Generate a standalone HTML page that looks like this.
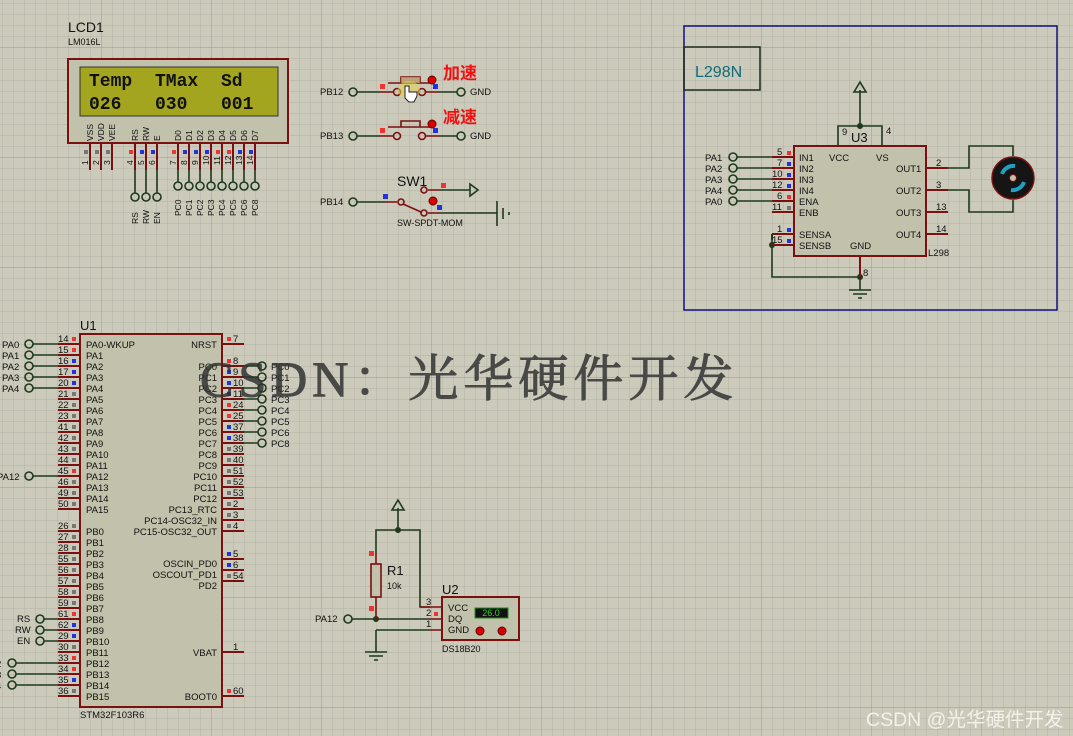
<!DOCTYPE html>
<html><head><meta charset="utf-8"><style>
html,body{margin:0;padding:0;width:1073px;height:736px;overflow:hidden;background:#cbcabb}
svg{display:block}
text{font-family:"Liberation Sans","Noto Sans CJK SC",sans-serif}
text.mono{font-family:"Liberation Mono",monospace;font-weight:bold}
text.wm{font-family:"Liberation Serif","Noto Serif CJK SC",serif}
</style></head><body>
<svg width="1073" height="736" viewBox="0 0 1073 736" xmlns="http://www.w3.org/2000/svg">
<defs>
<pattern id="g" width="11" height="11" patternUnits="userSpaceOnUse" x="2" y="3">
<path d="M0 0H11M0 0V11" stroke="#b3b2a6" stroke-width="1" fill="none"/></pattern>
<pattern id="G" width="110" height="110" patternUnits="userSpaceOnUse" x="101" y="47">
<path d="M0 0H110M0 0V110" stroke="#a3a296" stroke-width="1.2" fill="none"/></pattern>
</defs>
<rect width="1073" height="736" fill="#cbcabb"/>
<rect width="1073" height="736" fill="url(#g)"/>
<rect width="1073" height="736" fill="url(#G)"/>

<!-- LCD -->
<text x="68" y="32" font-size="14" fill="#111">LCD1</text>
<text x="68" y="45" font-size="9" fill="#111">LM016L</text>
<rect x="68" y="59" width="220" height="84" fill="#c2c1ab" stroke="#7a1010" stroke-width="2"/>
<rect x="80" y="67" width="198" height="49" fill="#a3a51e" stroke="#333" stroke-width="1"/>
<g font-size="18" fill="#111">
<text class="mono" x="89" y="86">Temp</text><text class="mono" x="155" y="86">TMax</text><text class="mono" x="221" y="86">Sd</text>
<text class="mono" x="89" y="109">026</text><text class="mono" x="155" y="109">030</text><text class="mono" x="221" y="109">001</text>
</g>
<g font-size="8.5" fill="#111">
<text transform="translate(93,141) rotate(-90)">VSS</text>
<text transform="translate(104,141) rotate(-90)">VDD</text>
<text transform="translate(115,141) rotate(-90)">VEE</text>
<text transform="translate(138,141) rotate(-90)">RS</text>
<text transform="translate(149,141) rotate(-90)">RW</text>
<text transform="translate(160,141) rotate(-90)">E</text>
<text transform="translate(181,141) rotate(-90)">D0</text>
<text transform="translate(192,141) rotate(-90)">D1</text>
<text transform="translate(203,141) rotate(-90)">D2</text>
<text transform="translate(214,141) rotate(-90)">D3</text>
<text transform="translate(225,141) rotate(-90)">D4</text>
<text transform="translate(236,141) rotate(-90)">D5</text>
<text transform="translate(247,141) rotate(-90)">D6</text>
<text transform="translate(258,141) rotate(-90)">D7</text>
</g>
<g stroke="#7a1010" stroke-width="2">
<path d="M90 144V170M101 144V170M112 144V170M135 144V170M146 144V170M157 144V170M178 144V170M189 144V170M200 144V170M211 144V170M222 144V170M233 144V170M244 144V170M255 144V170"/>
</g>
<g stroke="#1d3a1d" stroke-width="1.6" fill="none">
<path d="M135 170V193M146 170V193M157 170V193M178 170V182M189 170V182M200 170V182M211 170V182M222 170V182M233 170V182M244 170V182M255 170V182"/>
<circle cx="135" cy="197" r="4"/><circle cx="146" cy="197" r="4"/><circle cx="157" cy="197" r="4"/>
<circle cx="178" cy="186" r="4"/><circle cx="189" cy="186" r="4"/><circle cx="200" cy="186" r="4"/><circle cx="211" cy="186" r="4"/><circle cx="222" cy="186" r="4"/><circle cx="233" cy="186" r="4"/><circle cx="244" cy="186" r="4"/><circle cx="255" cy="186" r="4"/>
</g>
<g font-size="8.5" fill="#111">
<text transform="translate(88,165) rotate(-90)">1</text><text transform="translate(99,165) rotate(-90)">2</text><text transform="translate(110,165) rotate(-90)">3</text>
<text transform="translate(133,165) rotate(-90)">4</text><text transform="translate(144,165) rotate(-90)">5</text><text transform="translate(155,165) rotate(-90)">6</text>
<text transform="translate(176,165) rotate(-90)">7</text><text transform="translate(187,165) rotate(-90)">8</text><text transform="translate(198,165) rotate(-90)">9</text><text transform="translate(209,165) rotate(-90)">10</text><text transform="translate(220,165) rotate(-90)">11</text><text transform="translate(231,165) rotate(-90)">12</text><text transform="translate(242,165) rotate(-90)">13</text><text transform="translate(253,165) rotate(-90)">14</text>
<text transform="translate(138,224) rotate(-90)">RS</text><text transform="translate(149,224) rotate(-90)">RW</text><text transform="translate(160,224) rotate(-90)">EN</text>
<text transform="translate(181,216) rotate(-90)">PC0</text><text transform="translate(192,216) rotate(-90)">PC1</text><text transform="translate(203,216) rotate(-90)">PC2</text><text transform="translate(214,216) rotate(-90)">PC3</text><text transform="translate(225,216) rotate(-90)">PC4</text><text transform="translate(236,216) rotate(-90)">PC5</text><text transform="translate(247,216) rotate(-90)">PC6</text><text transform="translate(258,216) rotate(-90)">PC8</text>
</g>
<g>
<rect x="84" y="150" width="4" height="4" fill="#777"/><rect x="95" y="150" width="4" height="4" fill="#777"/><rect x="106" y="150" width="4" height="4" fill="#777"/>
<rect x="129" y="150" width="4" height="4" fill="#e33"/><rect x="140" y="150" width="4" height="4" fill="#23d"/><rect x="151" y="150" width="4" height="4" fill="#23d"/>
<rect x="172" y="150" width="4" height="4" fill="#e33"/><rect x="183" y="150" width="4" height="4" fill="#23d"/><rect x="194" y="150" width="4" height="4" fill="#23d"/><rect x="205" y="150" width="4" height="4" fill="#23d"/><rect x="216" y="150" width="4" height="4" fill="#e33"/><rect x="227" y="150" width="4" height="4" fill="#e33"/><rect x="238" y="150" width="4" height="4" fill="#23d"/><rect x="249" y="150" width="4" height="4" fill="#23d"/>
</g>

<!-- Buttons -->
<g font-size="9.5" fill="#111">
<text x="320" y="95">PB12</text><text x="320" y="139">PB13</text><text x="320" y="205">PB14</text>
<text x="470" y="95">GND</text><text x="470" y="139">GND</text>
</g>
<g stroke="#1d3a1d" stroke-width="1.6" fill="none">
<circle cx="353" cy="92" r="4"/><path d="M357 92H380"/><circle cx="461" cy="92" r="4"/><path d="M440 92H457"/>
<circle cx="353" cy="136" r="4"/><path d="M357 136H380"/><circle cx="461" cy="136" r="4"/><path d="M440 136H457"/>
<circle cx="353" cy="202" r="4"/><path d="M357 202H385"/>
<path d="M440 190H470"/><path d="M470 184L478 190L470 196Z"/>
<path d="M440 213H497M497 201V226M503 208V219M509 212V215"/>
</g>
<g stroke="#7a1010" stroke-width="1.6" fill="none">
<path d="M380 92H393M426 92H440M380 136H393M426 136H440M385 202H397M428 190H440M428 213H440"/>
<circle cx="397" cy="92" r="3.5"/><circle cx="422" cy="92" r="3.5"/>
<circle cx="397" cy="136" r="3.5"/><circle cx="422" cy="136" r="3.5"/>
<path d="M388 83H430M401 83V77H420V83"/>
<path d="M388 127H430M401 127V121H420V127"/>
<circle cx="401" cy="202" r="3"/><circle cx="424" cy="190" r="3"/><circle cx="424" cy="213" r="3"/>
<path d="M403 204L421 212"/>
</g>
<rect x="401" y="77" width="19" height="6" fill="#b89a6a" opacity=".8"/>
<ellipse cx="409" cy="90" rx="11" ry="9" fill="#e4d24a" opacity=".55"/>
<path d="M405 86V98L409 102H414L417 96V92H409V86Z" fill="#fff" stroke="#222" stroke-width="1"/>
<circle cx="432" cy="80" r="4" fill="#d00" stroke="#600"/><circle cx="432" cy="124" r="4" fill="#d00" stroke="#600"/><circle cx="433" cy="201" r="4" fill="#d00" stroke="#600"/>
<rect x="380" y="84" width="5" height="5" fill="#e33"/><rect x="433" y="84" width="5" height="5" fill="#23d"/>
<rect x="380" y="128" width="5" height="5" fill="#e33"/><rect x="433" y="128" width="5" height="5" fill="#23d"/>
<rect x="383" y="194" width="5" height="5" fill="#23d"/><rect x="441" y="183" width="5" height="5" fill="#e33"/><rect x="437" y="205" width="5" height="5" fill="#23d"/>
<text x="443" y="79" font-size="17" font-weight="bold" fill="#f01010">加速</text>
<text x="443" y="123" font-size="17" font-weight="bold" fill="#f01010">减速</text>
<text x="397" y="186" font-size="14" fill="#111">SW1</text>
<text x="397" y="226" font-size="9" fill="#111">SW-SPDT-MOM</text>

<!-- L298 section -->
<rect x="684" y="26" width="373" height="284" fill="none" stroke="#101080" stroke-width="1.5"/>
<rect x="684" y="47" width="76" height="43" fill="none" stroke="#1d2a1d" stroke-width="1.5"/>
<text x="695" y="77" font-size="16" fill="#106a7a">L298N</text>
<g stroke="#1d3a1d" stroke-width="1.6" fill="none">
<path d="M860 126V90M854 92L860 82L866 92Z"/>
<path d="M838 146V126H882V146"/>
<path d="M772 240V277H860M860 256V290M849 290H871M853 294H867M858 298H862"/>
<path d="M737 157H772M737 168H772M737 179H772M737 190H772M737 201H772"/>
<circle cx="733" cy="157" r="4"/><circle cx="733" cy="168" r="4"/><circle cx="733" cy="179" r="4"/><circle cx="733" cy="190" r="4"/><circle cx="733" cy="201" r="4"/>
<path d="M948 168H969V146H1013V156M948 190H969V212H1013V200"/>
</g>
<circle cx="860" cy="126" r="3" fill="#1d3a1d"/><circle cx="772" cy="245" r="3" fill="#1d3a1d"/><circle cx="860" cy="277" r="3" fill="#1d3a1d"/>
<rect x="794" y="146" width="132" height="110" fill="#c2c1ab" stroke="#7a1010" stroke-width="2"/>
<g stroke="#7a1010" stroke-width="2">
<path d="M772 157H794M772 168H794M772 179H794M772 190H794M772 201H794M772 212H794M772 234H794M772 245H794M926 168H948M926 190H948M926 212H948M926 234H948M860 256V277"/>
<path d="M772 234V240" stroke="#1d3a1d"/>
</g>
<g font-size="9.5" fill="#111">
<text x="705" y="161">PA1</text><text x="705" y="172">PA2</text><text x="705" y="183">PA3</text><text x="705" y="194">PA4</text><text x="705" y="205">PA0</text>
<text x="777" y="155">5</text><text x="777" y="166">7</text><text x="772" y="177">10</text><text x="772" y="188">12</text><text x="777" y="199">6</text><text x="772" y="210">11</text><text x="777" y="232">1</text><text x="772" y="243">15</text>
<text x="799" y="161">IN1</text><text x="799" y="172">IN2</text><text x="799" y="183">IN3</text><text x="799" y="194">IN4</text><text x="799" y="205">ENA</text><text x="799" y="216">ENB</text><text x="799" y="238">SENSA</text><text x="799" y="249">SENSB</text>
<text x="829" y="161">VCC</text><text x="876" y="161">VS</text><text x="850" y="249">GND</text>
<text x="896" y="172">OUT1</text><text x="896" y="194">OUT2</text><text x="896" y="216">OUT3</text><text x="896" y="238">OUT4</text>
<text x="936" y="166">2</text><text x="936" y="188">3</text><text x="936" y="210">13</text><text x="936" y="232">14</text>
<text x="928" y="256">L298</text><text x="842" y="135">9</text><text x="886" y="134">4</text><text x="863" y="276">8</text>
</g>
<text x="851" y="142" font-size="13" fill="#111">U3</text>
<rect x="787" y="151" width="4" height="4" fill="#e33"/><rect x="787" y="162" width="4" height="4" fill="#23d"/><rect x="787" y="173" width="4" height="4" fill="#23d"/><rect x="787" y="184" width="4" height="4" fill="#23d"/><rect x="787" y="195" width="4" height="4" fill="#e33"/><rect x="787" y="206" width="4" height="4" fill="#777"/><rect x="787" y="228" width="4" height="4" fill="#23d"/><rect x="787" y="239" width="4" height="4" fill="#23d"/>
<circle cx="1013" cy="178" r="21" fill="#151515" stroke="#7a1010" stroke-width="1.5"/>
<path d="M1002 174A12 12 0 0 1 1015 166" stroke="#22a0c0" stroke-width="4" fill="none"/>
<path d="M1024 182A12 12 0 0 1 1011 190" stroke="#22a0c0" stroke-width="4" fill="none"/>
<circle cx="1013" cy="178" r="3.5" fill="#c2c1ab" stroke="#7a1010"/>

<!-- U1 -->
<text x="80" y="330" font-size="13" fill="#111">U1</text>
<rect x="80" y="334" width="142" height="373" fill="#c2c1ab" stroke="#7a1010" stroke-width="2"/>
<text x="80" y="718" font-size="9.5" fill="#111">STM32F103R6</text>
<g stroke="#7a1010" stroke-width="2">
<path d="M58 344H80M58 355H80M58 366H80M58 377H80M58 388H80M58 399H80M58 410H80M58 421H80M58 432H80M58 443H80M58 454H80M58 465H80M58 476H80M58 487H80M58 498H80M58 509H80"/>
<path d="M58 531H80M58 542H80M58 553H80M58 564H80M58 575H80M58 586H80M58 597H80M58 608H80M58 619H80M58 630H80M58 641H80M58 652H80M58 663H80M58 674H80M58 685H80M58 696H80"/>
<path d="M222 344H244M222 366H244M222 377H244M222 388H244M222 399H244M222 410H244M222 421H244M222 432H244M222 443H244M222 454H244M222 465H244M222 476H244M222 487H244M222 498H244M222 509H244M222 520H244M222 531H244M222 559H244M222 570H244M222 581H244M222 652H244M222 696H244"/>
</g>
<g stroke="#1d3a1d" stroke-width="1.6" fill="none">
<path d="M33 344H58M33 355H58M33 366H58M33 377H58M33 388H58M33 476H58M44 619H58M44 630H58M44 641H58M16 663H58M16 674H58M16 685H58"/>
<circle cx="29" cy="344" r="4"/><circle cx="29" cy="355" r="4"/><circle cx="29" cy="366" r="4"/><circle cx="29" cy="377" r="4"/><circle cx="29" cy="388" r="4"/><circle cx="29" cy="476" r="4"/>
<circle cx="40" cy="619" r="4"/><circle cx="40" cy="630" r="4"/><circle cx="40" cy="641" r="4"/>
<circle cx="12" cy="663" r="4"/><circle cx="12" cy="674" r="4"/><circle cx="12" cy="685" r="4"/>
<path d="M244 366H258M244 377H258M244 388H258M244 399H258M244 410H258M244 421H258M244 432H258M244 443H258"/>
<circle cx="262" cy="366" r="4"/><circle cx="262" cy="377" r="4"/><circle cx="262" cy="388" r="4"/><circle cx="262" cy="399" r="4"/><circle cx="262" cy="410" r="4"/><circle cx="262" cy="421" r="4"/><circle cx="262" cy="432" r="4"/><circle cx="262" cy="443" r="4"/>
</g>
<g font-size="9.5" fill="#111">
<text x="2" y="348">PA0</text><text x="2" y="359">PA1</text><text x="2" y="370">PA2</text><text x="2" y="381">PA3</text><text x="2" y="392">PA4</text><text x="-3" y="480">PA12</text>
<text x="17" y="622">RS</text><text x="15" y="633">RW</text><text x="17" y="644">EN</text>
<text x="-4" y="667">2</text><text x="-4" y="678">3</text><text x="-4" y="689">4</text>
<text x="271" y="370">PC0</text><text x="271" y="381">PC1</text><text x="271" y="392">PC2</text><text x="271" y="403">PC3</text><text x="271" y="414">PC4</text><text x="271" y="425">PC5</text><text x="271" y="436">PC6</text><text x="271" y="447">PC8</text>
<g>
<text x="58" y="342">14</text><text x="58" y="353">15</text><text x="58" y="364">16</text><text x="58" y="375">17</text><text x="58" y="386">20</text><text x="58" y="397">21</text><text x="58" y="408">22</text><text x="58" y="419">23</text><text x="58" y="430">41</text><text x="58" y="441">42</text><text x="58" y="452">43</text><text x="58" y="463">44</text><text x="58" y="474">45</text><text x="58" y="485">46</text><text x="58" y="496">49</text><text x="58" y="507">50</text>
<text x="58" y="529">26</text><text x="58" y="540">27</text><text x="58" y="551">28</text><text x="58" y="562">55</text><text x="58" y="573">56</text><text x="58" y="584">57</text><text x="58" y="595">58</text><text x="58" y="606">59</text><text x="58" y="617">61</text><text x="58" y="628">62</text><text x="58" y="639">29</text><text x="58" y="650">30</text><text x="58" y="661">33</text><text x="58" y="672">34</text><text x="58" y="683">35</text><text x="58" y="694">36</text>
</g>
<g>
<text x="86" y="348">PA0-WKUP</text><text x="86" y="359">PA1</text><text x="86" y="370">PA2</text><text x="86" y="381">PA3</text><text x="86" y="392">PA4</text><text x="86" y="403">PA5</text><text x="86" y="414">PA6</text><text x="86" y="425">PA7</text><text x="86" y="436">PA8</text><text x="86" y="447">PA9</text><text x="86" y="458">PA10</text><text x="86" y="469">PA11</text><text x="86" y="480">PA12</text><text x="86" y="491">PA13</text><text x="86" y="502">PA14</text><text x="86" y="513">PA15</text>
<text x="86" y="535">PB0</text><text x="86" y="546">PB1</text><text x="86" y="557">PB2</text><text x="86" y="568">PB3</text><text x="86" y="579">PB4</text><text x="86" y="590">PB5</text><text x="86" y="601">PB6</text><text x="86" y="612">PB7</text><text x="86" y="623">PB8</text><text x="86" y="634">PB9</text><text x="86" y="645">PB10</text><text x="86" y="656">PB11</text><text x="86" y="667">PB12</text><text x="86" y="678">PB13</text><text x="86" y="689">PB14</text><text x="86" y="700">PB15</text>
</g>
<g text-anchor="end">
<text x="217" y="348">NRST</text><text x="217" y="370">PC0</text><text x="217" y="381">PC1</text><text x="217" y="392">PC2</text><text x="217" y="403">PC3</text><text x="217" y="414">PC4</text><text x="217" y="425">PC5</text><text x="217" y="436">PC6</text><text x="217" y="447">PC7</text><text x="217" y="458">PC8</text><text x="217" y="469">PC9</text><text x="217" y="480">PC10</text><text x="217" y="491">PC11</text><text x="217" y="502">PC12</text><text x="217" y="513">PC13_RTC</text><text x="217" y="524">PC14-OSC32_IN</text><text x="217" y="535">PC15-OSC32_OUT</text>
<text x="217" y="567">OSCIN_PD0</text><text x="217" y="578">OSCOUT_PD1</text><text x="217" y="589">PD2</text><text x="217" y="656">VBAT</text><text x="217" y="700">BOOT0</text>
</g>
<g>
<text x="233" y="342">7</text><text x="233" y="364">8</text><text x="233" y="375">9</text><text x="233" y="386">10</text><text x="233" y="397">11</text><text x="233" y="408">24</text><text x="233" y="419">25</text><text x="233" y="430">37</text><text x="233" y="441">38</text><text x="233" y="452">39</text><text x="233" y="463">40</text><text x="233" y="474">51</text><text x="233" y="485">52</text><text x="233" y="496">53</text><text x="233" y="507">2</text><text x="233" y="518">3</text><text x="233" y="529">4</text><text x="233" y="557">5</text><text x="233" y="568">6</text><text x="233" y="579">54</text><text x="233" y="650">1</text><text x="233" y="694">60</text>
</g>
</g>
<g fill="#777">
<rect x="72" y="337" width="4" height="4" fill="#e33"/><rect x="72" y="348" width="4" height="4" fill="#e33"/><rect x="72" y="359" width="4" height="4" fill="#23d"/><rect x="72" y="370" width="4" height="4" fill="#23d"/><rect x="72" y="381" width="4" height="4" fill="#23d"/>
<rect x="72" y="392" width="4" height="4"/><rect x="72" y="403" width="4" height="4"/><rect x="72" y="414" width="4" height="4"/><rect x="72" y="425" width="4" height="4"/><rect x="72" y="436" width="4" height="4"/><rect x="72" y="447" width="4" height="4"/><rect x="72" y="458" width="4" height="4"/><rect x="72" y="469" width="4" height="4" fill="#e33"/><rect x="72" y="480" width="4" height="4"/><rect x="72" y="491" width="4" height="4"/><rect x="72" y="502" width="4" height="4"/>
<rect x="72" y="524" width="4" height="4"/><rect x="72" y="535" width="4" height="4"/><rect x="72" y="546" width="4" height="4"/><rect x="72" y="557" width="4" height="4"/><rect x="72" y="568" width="4" height="4"/><rect x="72" y="579" width="4" height="4"/><rect x="72" y="590" width="4" height="4"/><rect x="72" y="601" width="4" height="4"/><rect x="72" y="612" width="4" height="4" fill="#e33"/><rect x="72" y="623" width="4" height="4" fill="#23d"/><rect x="72" y="634" width="4" height="4" fill="#23d"/><rect x="72" y="645" width="4" height="4"/><rect x="72" y="656" width="4" height="4" fill="#e33"/><rect x="72" y="667" width="4" height="4" fill="#e33"/><rect x="72" y="678" width="4" height="4" fill="#23d"/><rect x="72" y="689" width="4" height="4"/>
<rect x="227" y="337" width="4" height="4" fill="#e33"/><rect x="227" y="359" width="4" height="4" fill="#e33"/><rect x="227" y="370" width="4" height="4" fill="#23d"/><rect x="227" y="381" width="4" height="4" fill="#23d"/><rect x="227" y="392" width="4" height="4" fill="#23d"/><rect x="227" y="403" width="4" height="4" fill="#e33"/><rect x="227" y="414" width="4" height="4" fill="#e33"/><rect x="227" y="425" width="4" height="4" fill="#23d"/><rect x="227" y="436" width="4" height="4" fill="#23d"/>
<rect x="227" y="447" width="4" height="4"/><rect x="227" y="458" width="4" height="4"/><rect x="227" y="469" width="4" height="4"/><rect x="227" y="480" width="4" height="4"/><rect x="227" y="491" width="4" height="4"/><rect x="227" y="502" width="4" height="4"/><rect x="227" y="513" width="4" height="4"/><rect x="227" y="524" width="4" height="4"/>
<rect x="227" y="552" width="4" height="4" fill="#23d"/><rect x="227" y="563" width="4" height="4" fill="#23d"/><rect x="227" y="574" width="4" height="4"/><rect x="227" y="689" width="4" height="4" fill="#e33"/>
</g>

<!-- DS18B20 -->
<g stroke="#1d3a1d" stroke-width="1.6" fill="none">
<path d="M398 530V508M392 510L398 500L404 510Z"/>
<path d="M376 553V530H420V607H430"/>
<path d="M352 619H430"/><circle cx="348" cy="619" r="4"/>
<path d="M376 630H430M376 630V652M365 652H387M369 656H383M374 660H378"/>
</g>
<circle cx="398" cy="530" r="3" fill="#1d3a1d"/><circle cx="376" cy="619" r="3" fill="#1d3a1d"/>
<g stroke="#7a1010" stroke-width="1.6" fill="none">
<path d="M376 553V564M376 597V619M420 607H442M430 619H442M430 630H442"/>
</g>
<rect x="371" y="564" width="10" height="33" fill="#c2c1ab" stroke="#7a1010" stroke-width="1.6"/>
<rect x="369" y="551" width="5" height="5" fill="#e33"/><rect x="369" y="606" width="5" height="5" fill="#e33"/>
<text x="387" y="575" font-size="13" fill="#111">R1</text><text x="387" y="589" font-size="9" fill="#111">10k</text>
<text x="315" y="622" font-size="9.5" fill="#111">PA12</text>
<rect x="442" y="597" width="77" height="43" fill="#c2c1ab" stroke="#7a1010" stroke-width="2"/>
<text x="442" y="594" font-size="13" fill="#111">U2</text>
<text x="442" y="652" font-size="9" fill="#111">DS18B20</text>
<g font-size="9.5" fill="#111"><text x="448" y="611">VCC</text><text x="448" y="622">DQ</text><text x="448" y="633">GND</text><text x="426" y="605">3</text><text x="426" y="616">2</text><text x="426" y="627">1</text></g>
<rect x="434" y="612" width="4" height="4" fill="#e33"/>
<rect x="475" y="608" width="33" height="10" fill="#111" stroke="#1a8a1a"/>
<text x="491" y="616" font-size="9" fill="#2cd42c" text-anchor="middle">26.0</text>
<circle cx="480" cy="631" r="4" fill="#d00" stroke="#500"/><circle cx="502" cy="631" r="4" fill="#d00" stroke="#500"/>

<!-- watermark -->
<text class="wm" x="200" y="396" font-size="50" fill="#333" opacity=".85" stroke="#333" stroke-width="1" letter-spacing="5">CSDN：光华硬件开发</text>
<text x="866" y="726" font-size="19.5" fill="#f2f2ea">CSDN @光华硬件开发</text>
</svg>
</body></html>
